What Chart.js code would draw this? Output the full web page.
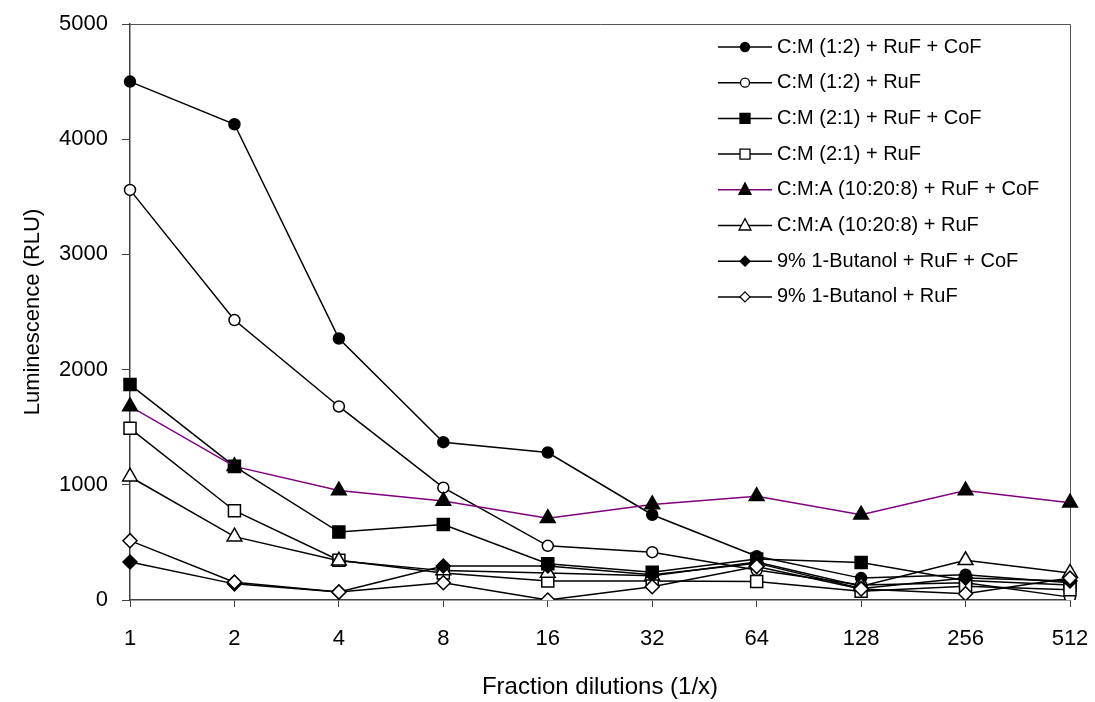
<!DOCTYPE html>
<html lang="en">
<head>
    <meta charset="UTF-8">
    <title>Luminescence vs fraction dilutions</title>
    <script src="https://cdn.jsdelivr.net/npm/chart.js"></script>
    <style>
        body {
            margin: 0;
            padding: 0;
            background-color: #fff;
        }

        .container {
            width: 1095px;
            height: 702px;
            position: relative;
        }
    </style>
</head>
<body>
    <div class="container">
        <canvas id="lumChart"></canvas>
    </div>

    <script>
        // x categories (dilution 1/x)
        const dilutions = ['1', '2', '4', '8', '16', '32', '64', '128', '256', '512'];

        // y tick values
        const yTicks = [0, 1000, 2000, 3000, 4000, 5000];

        // series (RLU)
        const cm12CoF = [4500, 4130, 2270, 1370, 1280, 740, 380, 190, 220, 150];
        const cm12 = [3560, 2430, 1680, 975, 470, 415, 260, 130, 150, 25];
        const cm21CoF = [1870, 1160, 590, 655, 315, 240, 355, 325, 170, 130];
        const cm21 = [1490, 775, 345, 235, 165, 165, 160, 75, 120, 90];
        const cmaCoF = [1680, 1160, 950, 860, 710, 830, 900, 740, 950, 845];
        const cma = [1070, 550, 340, 255, 235, 210, 330, 120, 345, 235];
        const butCoF = [330, 140, 70, 295, 295, 220, 320, 100, 190, 165];
        const but = [515, 155, 70, 150, 0, 115, 290, 95, 55, 190];

        const seriesNames = [
            'C:M (1:2) + RuF + CoF',
            'C:M (1:2) + RuF',
            'C:M (2:1) + RuF + CoF',
            'C:M (2:1) + RuF',
            'C:M:A (10:20:8) + RuF + CoF',
            'C:M:A (10:20:8) + RuF',
            '9% 1-Butanol + RuF + CoF',
            '9% 1-Butanol + RuF'
        ];
        const seriesData = [cm12CoF, cm12, cm21CoF, cm21, cmaCoF, cma, butCoF, but];
        const seriesStyle = ['circle', 'circle', 'rect', 'rect', 'triangle', 'triangle', 'rectRot', 'rectRot'];
        const seriesFilled = [true, false, true, false, true, false, true, false];
        const seriesLine = ['#000', '#000', '#000', '#000', '#800080', '#000', '#000', '#000'];
        const markerSize = { circle: 5.5, rect: 8.5, triangle: 8.5, rectRot: 7 };

        const FONT = 'Arial, "Liberation Sans", sans-serif';

        const datasets = seriesNames.map((name, i) => ({
            label: name,
            data: seriesData[i],
            borderColor: seriesLine[i],
            borderWidth: 1.5,
            pointStyle: seriesStyle[i],
            pointRadius: markerSize[seriesStyle[i]],
            pointHoverRadius: markerSize[seriesStyle[i]],
            pointBackgroundColor: seriesFilled[i] ? '#000' : '#fff',
            pointBorderColor: '#000',
            pointBorderWidth: 1.5,
            fill: false,
            tension: 0,
            order: seriesNames.length - i
        }));

        // frame round the plot area (top and right sides)
        const frame = {
            id: 'frame',
            beforeDatasetsDraw(chart) {
                const { ctx, chartArea: a } = chart;
                ctx.save();
                ctx.strokeStyle = '#555';
                ctx.lineWidth = 1;
                ctx.beginPath();
                ctx.moveTo(a.left, a.top + 0.5);
                ctx.lineTo(a.right + 0.5, a.top + 0.5);
                ctx.lineTo(a.right + 0.5, a.bottom);
                ctx.stroke();
                ctx.restore();
            }
        };

        function drawMarker(ctx, style, filled, x, y, r) {
            ctx.beginPath();
            if (style === 'circle') {
                ctx.arc(x, y, r, 0, Math.PI * 2);
            } else if (style === 'rect') {
                ctx.rect(x - r, y - r, 2 * r, 2 * r);
            } else if (style === 'triangle') {
                ctx.moveTo(x, y - r * 1.15);
                ctx.lineTo(x + r, y + r * 0.75);
                ctx.lineTo(x - r, y + r * 0.75);
                ctx.closePath();
            } else {
                ctx.moveTo(x - r, y);
                ctx.lineTo(x, y - r);
                ctx.lineTo(x + r, y);
                ctx.lineTo(x, y + r);
                ctx.closePath();
            }
            ctx.fillStyle = filled ? '#000' : '#fff';
            ctx.fill();
            ctx.strokeStyle = '#000';
            ctx.lineWidth = 1.3;
            ctx.stroke();
        }

        // legend inside the plot, line + marker + text
        const insideLegend = {
            id: 'insideLegend',
            afterDraw(chart) {
                const ctx = chart.ctx;
                const legR = { circle: 4.5, rect: 5, triangle: 6, rectRot: 5 };
                ctx.save();
                ctx.font = '20px ' + FONT;
                ctx.textBaseline = 'middle';
                seriesNames.forEach((name, i) => {
                    const y = 47 + i * 35.7;
                    ctx.strokeStyle = seriesLine[i];
                    ctx.lineWidth = 1.5;
                    ctx.beginPath();
                    ctx.moveTo(718, y);
                    ctx.lineTo(772, y);
                    ctx.stroke();
                    drawMarker(ctx, seriesStyle[i], seriesFilled[i], 745, y, legR[seriesStyle[i]]);
                    ctx.fillStyle = '#000';
                    ctx.fillText(name, 777, y);
                });
                ctx.restore();
            }
        };

        const ctx = document.getElementById('lumChart').getContext('2d');
        const lumChart = new Chart(ctx, {
            type: 'line',
            data: {
                labels: dilutions,
                datasets: datasets
            },
            options: {
                responsive: true,
                maintainAspectRatio: false,
                animation: false,
                layout: {
                    padding: { top: 24, right: 25, left: 0, bottom: 0 }
                },
                plugins: {
                    legend: { display: false },
                    tooltip: { enabled: false }
                },
                scales: {
                    x: {
                        type: 'category',
                        offset: false,
                        afterFit: scale => {
                            scale.height = 102;
                            scale.paddingLeft = 0;
                            scale.paddingRight = 0;
                        },
                        grid: {
                            display: true,
                            drawOnChartArea: false,
                            drawTicks: true,
                            tickLength: 7,
                            color: '#404040'
                        },
                        border: { display: true, color: '#404040', width: 1.5 },
                        ticks: {
                            color: '#000',
                            padding: 19,
                            maxRotation: 0,
                            autoSkip: false,
                            font: { family: FONT, size: 22 }
                        },
                        title: {
                            display: true,
                            text: 'Fraction dilutions (1/x)',
                            color: '#000',
                            font: { family: FONT, size: 24 },
                            padding: { top: 0, bottom: 0 }
                        }
                    },
                    y: {
                        min: 0,
                        max: 5000,
                        afterFit: scale => {
                            scale.width = 130;
                            scale.paddingTop = 0;
                            scale.paddingBottom = 0;
                        },
                        afterBuildTicks: scale => {
                            scale.ticks = yTicks.map(v => ({ value: v }));
                        },
                        grid: {
                            display: true,
                            drawOnChartArea: false,
                            drawTicks: true,
                            tickLength: 8,
                            color: '#404040'
                        },
                        border: { display: true, color: '#404040', width: 1.5 },
                        ticks: {
                            color: '#000',
                            padding: 14,
                            font: { family: FONT, size: 22 },
                            callback: v => String(v)
                        },
                        title: {
                            display: true,
                            text: 'Luminescence (RLU)',
                            color: '#000',
                            font: { family: FONT, size: 22 },
                            padding: { top: 20, bottom: 0 }
                        }
                    }
                }
            },
            plugins: [frame, insideLegend]
        });
    </script>
</body>
</html>
